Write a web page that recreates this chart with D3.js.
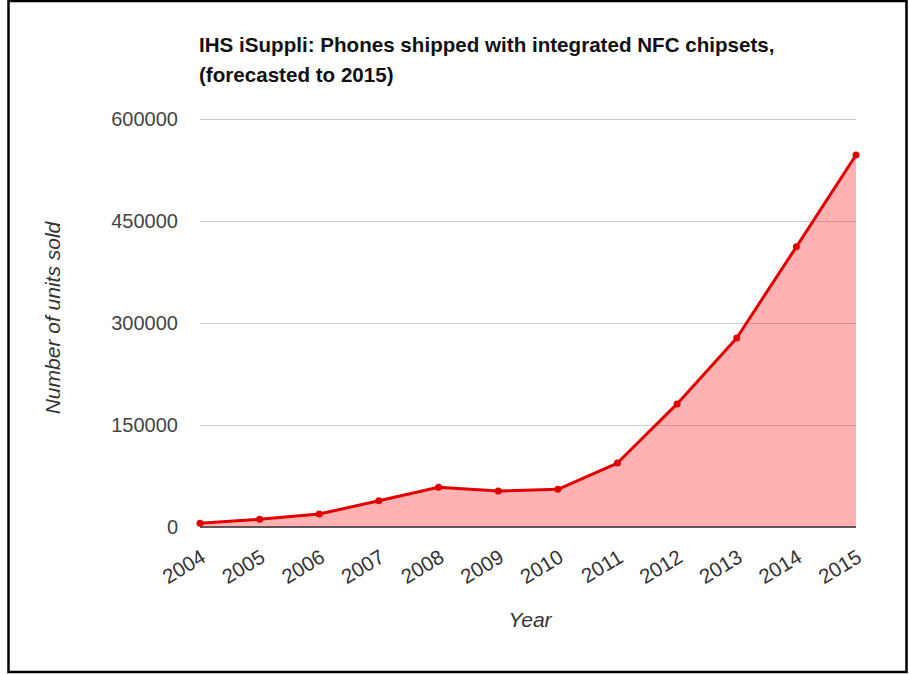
<!DOCTYPE html>
<html>
<head>
<meta charset="utf-8">
<script src="https://cdn.jsdelivr.net/npm/d3@7"></script>
<style>
  body { margin: 0; background: #fff; }
  text { font-family: "Liberation Sans", Arial, sans-serif; }
</style>
</head>
<body>
<div id="chart"></div>
<script>
// chart data
const years = ['2004', '2005', '2006', '2007', '2008', '2009', '2010', '2011', '2012', '2013', '2014', '2015'];
const units = [5400, 11300, 19100, 38700, 58400, 53000, 55400, 94100, 181000, 278000, 412000, 547000];
const yTicks = [0, 150000, 300000, 450000, 600000];
const titleLines = ['IHS iSuppli: Phones shipped with integrated NFC chipsets,', '(forecasted to 2015)'];

const W = 909, H = 674;
const margin = { top: 119, right: 53, bottom: 147, left: 200 };
const width = W - margin.left - margin.right;
const height = H - margin.top - margin.bottom;

const svg = d3.select('#chart')
    .append('svg')
    .attr('width', W)
    .attr('height', H);

// outer frame
svg.append('rect')
    .attr('x', 8.5).attr('y', 1)
    .attr('width', 898).attr('height', 671)
    .attr('fill', 'none')
    .attr('stroke', '#000')
    .attr('stroke-width', 2.5);

// title
svg.append('text')
    .attr('x', 199).attr('y', 52)
    .attr('font-size', 20.6).attr('font-weight', 'bold').attr('fill', '#111')
    .selectAll('tspan')
    .data(titleLines)
    .enter()
    .append('tspan')
    .attr('x', 199)
    .attr('dy', (d, i) => i === 0 ? 0 : 30)
    .text(d => d);

const g = svg.append('g')
    .attr('transform', `translate(${margin.left},${margin.top})`);

const x = d3.scalePoint()
    .domain(years)
    .range([0, width]);

const y = d3.scaleLinear()
    .domain([0, 600000])
    .range([height, 0]);

// gridlines + y labels
const yAxis = g.append('g')
    .call(d3.axisLeft(y).tickValues(yTicks).tickSize(-width).tickPadding(22).tickFormat(d3.format('d')));
yAxis.select('.domain').remove();
yAxis.selectAll('line').attr('stroke', '#ccc');
yAxis.selectAll('text')
    .attr('font-size', 20)
    .attr('fill', '#444')
    .style('font-family', '"Liberation Sans", Arial, sans-serif');

// area + line
const area = d3.area()
    .x((d, i) => x(years[i]))
    .y0(height)
    .y1(d => y(d));

g.append('path')
    .datum(units)
    .attr('fill', '#ff0000')
    .attr('fill-opacity', 0.3)
    .attr('d', area);

const line = d3.line()
    .x((d, i) => x(years[i]))
    .y(d => y(d));

// baseline
g.append('line')
    .attr('x1', 0).attr('x2', width)
    .attr('y1', height).attr('y2', height)
    .attr('stroke', '#333')
    .attr('stroke-width', 1.5);

g.append('path')
    .datum(units)
    .attr('fill', 'none')
    .attr('stroke', '#e00000')
    .attr('stroke-width', 3)
    .attr('stroke-linejoin', 'round')
    .attr('d', line);

g.selectAll('circle')
    .data(units)
    .enter()
    .append('circle')
    .attr('cx', (d, i) => x(years[i]))
    .attr('cy', d => y(d))
    .attr('r', 3.5)
    .attr('fill', '#e00000');

// x labels, rotated
g.selectAll('.xlab')
    .data(years)
    .enter()
    .append('text')
    .attr('class', 'xlab')
    .attr('transform', d => `translate(${x(d) + 7},${height + 34}) rotate(-31)`)
    .attr('text-anchor', 'end')
    .attr('font-size', 20.5)
    .attr('fill', '#333')
    .text(d => d);

// axis titles
svg.append('text')
    .attr('transform', `translate(60,${margin.top + height / 2 - 5}) rotate(-90)`)
    .attr('text-anchor', 'middle')
    .attr('font-size', 21)
    .attr('font-style', 'italic')
    .attr('fill', '#333')
    .text('Number of units sold');

svg.append('text')
    .attr('x', margin.left + width / 2 + 2)
    .attr('y', 627)
    .attr('text-anchor', 'middle')
    .attr('font-size', 21)
    .attr('font-style', 'italic')
    .attr('fill', '#333')
    .text('Year');
</script>
</body>
</html>
